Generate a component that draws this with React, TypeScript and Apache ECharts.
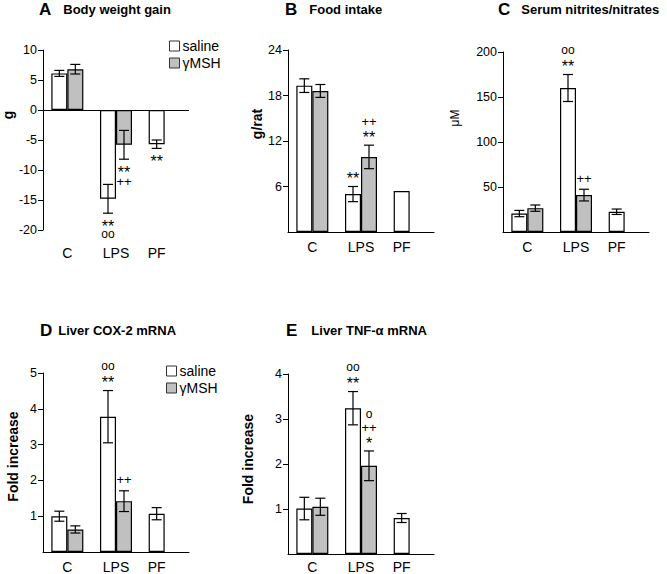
import React, { useEffect, useRef } from 'react';
import * as echarts from 'echarts';

// ---------- data ----------
const categories = ['C', 'LPS', 'PF'];
const groupNames = ['saline', 'γMSH'];

// A: Body weight gain (g)
const weightSaline = [6.1, -14.8, -5.7];
const weightSalineErr = [0.5, 2.4, 0.7];
const weightMsh = [6.8, -5.8, null];
const weightMshErr = [0.8, 2.4, null];
const weightSalineMarks = [[], ['**', 'oo'], ['**']];
const weightMshMarks = [[], ['**', '++'], []];
const weightTicks = [-20, 10, 5];

// B: Food intake (g/rat)
const foodSaline = [19.3, 5.0, 5.4];
const foodSalineErr = [0.9, 1.0, null];
const foodMsh = [18.6, 9.9, null];
const foodMshErr = [0.85, 1.55, null];
const foodSalineMarks = [[], ['**'], []];
const foodMshMarks = [[], ['**', '++'], []];
const foodTicks = [0, 24, 6];

// C: Serum nitrites/nitrates (µM)
const noxSaline = [20.5, 160, 22.5];
const noxSalineErr = [3.5, 15, 3];
const noxMsh = [26.5, 41, null];
const noxMshErr = [3.5, 6.5, null];
const noxSalineMarks = [[], ['**', 'oo'], []];
const noxMshMarks = [[], ['++'], []];
const noxTicks = [0, 200, 50];

// D: Liver COX-2 mRNA (fold increase)
const coxSaline = [1.0, 3.78, 1.07];
const coxSalineErr = [0.14, 0.73, 0.17];
const coxMsh = [0.63, 1.42, null];
const coxMshErr = [0.1, 0.29, null];
const coxSalineMarks = [[], ['**', 'oo'], []];
const coxMshMarks = [[], ['++'], []];
const coxTicks = [0, 5, 1];

// E: Liver TNF-α mRNA (fold increase)
const tnfSaline = [1.01, 3.24, 0.8];
const tnfSalineErr = [0.25, 0.37, 0.1];
const tnfMsh = [1.05, 1.96, null];
const tnfMshErr = [0.19, 0.33, null];
const tnfSalineMarks = [[], ['**', 'oo'], []];
const tnfMshMarks = [[], ['*', '++', 'o'], []];
const tnfTicks = [0, 4, 1];

// ---------- layout / style ----------
const FONT = '"Liberation Sans", Arial, Helvetica, sans-serif';
const BAR_W = 16;
const GRAY = '#c0c0c0';

// glyph-dependent size and vertical shift (text anchor vs. visual centre)
function glyphStyle(t: string) {
  if (t.indexOf('*') >= 0) return { size: 16, shift: 3.4 };
  if (t.indexOf('o') >= 0) return { size: 12, shift: -1.1 };
  return { size: 13, shift: 0 };
}

const panels = [
  {
    letter: 'A', title: 'Body weight gain', letterGap: 12, titleLeft: 39, titleTop: 1,
    yName: 'g', nameGap: 28, namePad: 50, nameBold: true, nameSize: 14,
    vals: [weightSaline, weightMsh], errs: [weightSalineErr, weightMshErr],
    marks: [weightSalineMarks, weightMshMarks], ticks: weightTicks, showMin: true,
    grid: { left: 43, top: 50, width: 146, height: 180 }, zeroLine: true, labelMargin: 16,
  },
  {
    letter: 'B', title: 'Food intake', letterGap: 12, titleLeft: 285, titleTop: 1,
    yName: 'g/rat', nameGap: 24, namePad: 34, nameBold: true, nameSize: 14,
    vals: [foodSaline, foodMsh], errs: [foodSalineErr, foodMshErr],
    marks: [foodSalineMarks, foodMshMarks], ticks: foodTicks, showMin: false,
    grid: { left: 288, top: 50, width: 146, height: 182 }, zeroLine: false, labelMargin: 8,
  },
  {
    letter: 'C', title: 'Serum nitrites/nitrates', letterGap: 11, titleLeft: 498, titleTop: 1,
    yName: 'μM', nameGap: 42, namePad: 48, nameBold: false, nameSize: 12,
    vals: [noxSaline, noxMsh], errs: [noxSalineErr, noxMshErr],
    marks: [noxSalineMarks, noxMshMarks], ticks: noxTicks, showMin: false,
    grid: { left: 503, top: 52, width: 146, height: 180 }, zeroLine: false, labelMargin: 8,
  },
  {
    letter: 'D', title: 'Liver COX-2 mRNA', letterGap: 6, titleLeft: 40, titleTop: 322,
    yName: 'Fold increase', nameGap: 23, namePad: 12, nameBold: true, nameSize: 14,
    vals: [coxSaline, coxMsh], errs: [coxSalineErr, coxMshErr],
    marks: [coxSalineMarks, coxMshMarks], ticks: coxTicks, showMin: false,
    grid: { left: 43, top: 373, width: 146, height: 181 }, zeroLine: false, labelMargin: 8,
  },
  {
    letter: 'E', title: 'Liver TNF-α mRNA', letterGap: 14, titleLeft: 286, titleTop: 322,
    yName: 'Fold increase', nameGap: 33, namePad: 10, nameBold: true, nameSize: 14,
    vals: [tnfSaline, tnfMsh], errs: [tnfSalineErr, tnfMshErr],
    marks: [tnfSalineMarks, tnfMshMarks], ticks: tnfTicks, showMin: false,
    grid: { left: 288, top: 374, width: 146, height: 182 }, zeroLine: false, labelMargin: 6,
  },
];

function buildOption() {
  const title: any[] = [];
  const grid: any[] = [];
  const xAxis: any[] = [];
  const yAxis: any[] = [];
  const series: any[] = [];

  panels.forEach((p, i) => {
    title.push({
      left: p.titleLeft,
      top: p.titleTop,
      padding: 0,
      text: `{l|${p.letter}}{t|${p.title}}`,
      textStyle: {
        rich: {
          l: { fontSize: 17, fontWeight: 'bold', color: '#000', fontFamily: FONT, padding: [0, p.letterGap, 0, 0] },
          t: { fontSize: 13, fontWeight: 'bold', color: '#000', fontFamily: FONT },
        },
      },
    });
    grid.push({ ...p.grid });
    xAxis.push({
      type: 'category',
      gridIndex: i,
      data: categories,
      axisLine: { show: !p.zeroLine, onZero: false, lineStyle: { color: '#000', width: 1 } },
      axisTick: { show: false },
      splitLine: { show: false },
      axisLabel: {
        interval: 0,
        hideOverlap: false,
        margin: p.labelMargin,
        fontSize: 14,
        color: '#000',
        fontFamily: FONT,
        formatter: (v: string) => (v === 'PF' ? `{pf|${v}}` : v),
        rich: { pf: { padding: [0, BAR_W, 0, 0], fontSize: 14, color: '#000', fontFamily: FONT } },
      },
    });
    yAxis.push({
      type: 'value',
      gridIndex: i,
      min: p.ticks[0],
      max: p.ticks[1],
      interval: p.ticks[2],
      axisLine: { show: true, lineStyle: { color: '#000', width: 1 } },
      axisTick: { show: true, length: 5, lineStyle: { color: '#000', width: 1 } },
      splitLine: { show: false },
      axisLabel: { showMinLabel: p.showMin, fontSize: 12.5, color: '#000', margin: 6, fontFamily: FONT },
      name: p.yName,
      nameLocation: 'middle',
      nameRotate: 90,
      nameGap: p.nameGap,
      nameTextStyle: {
        fontSize: p.nameSize,
        fontWeight: p.nameBold ? 'bold' : 'normal',
        color: '#000',
        fontFamily: FONT,
        padding: [0, 0, 0, p.namePad],
      },
    });

    [0, 1].forEach((s) => {
      series.push({
        type: 'bar',
        name: groupNames[s],
        xAxisIndex: i,
        yAxisIndex: i,
        data: p.vals[s].map((v) => (v == null ? '-' : v)),
        barWidth: BAR_W,
        barGap: '0%',
        itemStyle: { color: s === 0 ? '#ffffff' : GRAY, borderColor: '#000', borderWidth: 1.2 },
        z: 2,
        markLine:
          p.zeroLine && s === 0
            ? {
                silent: true,
                symbol: 'none',
                label: { show: false },
                lineStyle: { color: '#000', width: 1, type: 'solid' },
                data: [{ yAxis: 0 }],
              }
            : undefined,
      });
    });

    // error bars
    const errData: number[][] = [];
    [0, 1].forEach((s) => {
      p.vals[s].forEach((v, c) => {
        const e = p.errs[s][c];
        if (v != null && e != null) errData.push([c, v, e, s]);
      });
    });
    series.push({
      type: 'custom',
      name: 'err' + i,
      xAxisIndex: i,
      yAxisIndex: i,
      encode: { x: 0, y: 1 },
      z: 5,
      data: errData,
      renderItem: (params: any, api: any) => {
        const c = api.value(0);
        const v = api.value(1);
        const e = api.value(2);
        const s = api.value(3);
        const cx = api.coord([c, v])[0] + (s === 0 ? -BAR_W / 2 : BAR_W / 2);
        const yt = api.coord([c, v + e])[1];
        const yb = api.coord([c, v - e])[1];
        const st = { stroke: '#000', lineWidth: 1.2 };
        return {
          type: 'group',
          children: [
            { type: 'line', shape: { x1: cx, y1: yt, x2: cx, y2: yb }, style: st },
            { type: 'line', shape: { x1: cx - 5, y1: yt, x2: cx + 5, y2: yt }, style: st },
            { type: 'line', shape: { x1: cx - 5, y1: yb, x2: cx + 5, y2: yb }, style: st },
          ],
        };
      },
    });

    // significance marks
    const markItems: { c: number; v: number; e: number; s: number; lines: string[] }[] = [];
    [0, 1].forEach((s) => {
      p.marks[s].forEach((lines, c) => {
        const v = p.vals[s][c];
        if (lines.length && v != null) {
          markItems.push({ c, v, e: p.errs[s][c] ?? 0, s, lines });
        }
      });
    });
    series.push({
      type: 'custom',
      name: 'marks' + i,
      xAxisIndex: i,
      yAxisIndex: i,
      encode: { x: 0, y: 1 },
      z: 6,
      data: markItems.map((m) => [m.c, m.v, m.e, m.s]),
      renderItem: (params: any, api: any) => {
        const m = markItems[params.dataIndex];
        const c = api.value(0);
        const v = api.value(1);
        const e = api.value(2);
        const s = api.value(3);
        const cx = api.coord([c, v])[0] + (s === 0 ? -BAR_W / 2 : BAR_W / 2);
        const up = v >= 0;
        const baseY = api.coord([c, up ? v + e : v - e])[1];
        const dir = up ? -1 : 1;
        const first = up ? 11 : 10;
        const step = up ? 12.5 : 12;
        return {
          type: 'group',
          children: m.lines.map((t, k) => {
            const g = glyphStyle(t);
            return {
              type: 'text',
              x: cx,
              y: baseY + dir * (first + k * step) + g.shift,
              style: {
                text: t,
                fill: '#000',
                fontSize: g.size,
                fontFamily: FONT,
                align: 'center',
                verticalAlign: 'middle',
              },
            };
          }),
        };
      },
    });
  });

  const legendBase = {
    orient: 'vertical',
    itemWidth: 10,
    itemHeight: 10,
    itemGap: 3,
    padding: 0,
    icon: 'rect',
    selectedMode: false,
    data: groupNames,
    itemStyle: { borderColor: '#333', borderWidth: 1 },
    textStyle: { fontSize: 14, color: '#000', fontFamily: FONT, padding: [0, 0, 0, -2] },
  };

  return {
    animation: false,
    backgroundColor: '#fff',
    textStyle: { fontFamily: FONT },
    title,
    grid,
    xAxis,
    yAxis,
    legend: [
      { ...legendBase, left: 169, top: 39 },
      { ...legendBase, left: 166, top: 364 },
    ],
    series,
  };
}

export default function App() {
  const ref = useRef<HTMLDivElement>(null);
  useEffect(() => {
    if (!ref.current) return;
    const chart = echarts.init(ref.current, undefined, { renderer: 'svg' });
    chart.setOption(buildOption() as any);
    return () => chart.dispose();
  }, []);
  return (
    <div
      ref={ref}
      style={{ position: 'fixed', left: 0, top: 0, width: 667, height: 574, background: '#fff' }}
    />
  );
}
